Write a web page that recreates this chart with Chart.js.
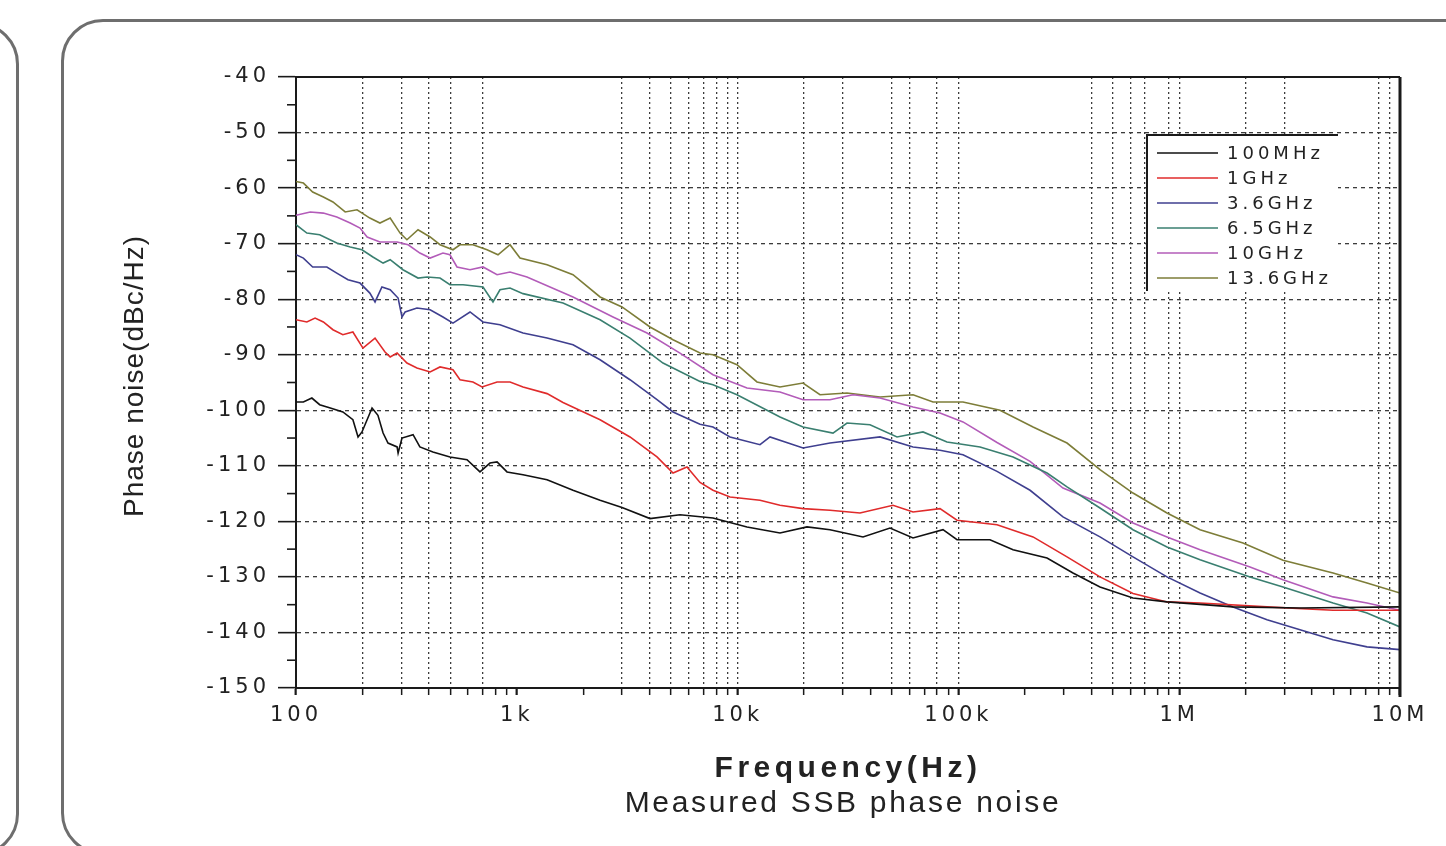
<!DOCTYPE html>
<html lang="en">
<head>
  <meta charset="UTF-8">
  <title>Measured SSB phase noise</title>
  <style>
    body {
      margin: 0;
      background: #ffffff;
      overflow: hidden;
    }

    .wrap {
      position: relative;
      width: 1446px;
      height: 846px;
      overflow: hidden;
    }

    .frame {
      position: absolute;
      box-sizing: border-box;
      border: 3px solid #6e6e6e;
      border-radius: 42px;
    }

    .frame.side {
      left: -100px;
      top: 22px;
      width: 119px;
      height: 834px;
    }

    .frame.main {
      left: 61px;
      top: 19px;
      width: 1500px;
      height: 836px;
    }

    canvas {
      position: absolute;
      left: 0;
      top: 0;
    }
  </style>
</head>
<body>
  <div class="wrap">
    <div class="frame side"></div>
    <div class="frame main"></div>
    <canvas id="noise-chart" width="1446" height="846"></canvas>
  </div>

  <script src="https://cdn.jsdelivr.net/npm/chart.js"></script>
  <script>
    // series (frequency in Hz, phase noise in dBc/Hz)
    const seriesNames = ["100MHz", "1GHz", "3.6GHz", "6.5GHz", "10GHz", "13.6GHz"];
    const seriesColors = ["#111111", "#e02b2b", "#3f3f8f", "#3a7f70", "#b35cb9", "#7d7d38"];

    const freq100M = [100, 108, 118, 128, 143, 163, 181, 191, 199, 221, 235, 248, 261, 287, 290, 302, 339, 364, 417, 498, 595, 681, 756, 814, 903, 1067, 1371, 1797, 2383, 2996, 4012, 5484, 7735, 11030, 15560, 20620, 26210, 36980, 49000, 62300, 85160, 98560, 139000, 176800, 252000, 330400, 437800, 617700, 880500, 1753000, 3525000, 10000000];
    const noise100M = [-98.5, -98.5, -97.8, -99.0, -99.6, -100.3, -101.7, -104.8, -103.9, -99.6, -100.9, -104.1, -105.9, -106.6, -107.7, -105.0, -104.4, -106.6, -107.5, -108.4, -108.9, -111.1, -109.5, -109.3, -111.1, -111.6, -112.5, -114.4, -116.2, -117.5, -119.5, -118.8, -119.4, -121.0, -122.1, -121.0, -121.5, -122.8, -121.2, -123.0, -121.5, -123.3, -123.3, -125.1, -126.6, -129.3, -131.8, -133.8, -134.5, -135.4, -135.6, -135.4];

    const freq1G = [100, 112, 122, 133, 147, 163, 181, 201, 228, 253, 267, 287, 318, 353, 405, 449, 514, 553, 633, 696, 814, 932, 1067, 1371, 1619, 2383, 3256, 4315, 5100, 5898, 6755, 7735, 9240, 12630, 15560, 19780, 26210, 35840, 50560, 62300, 82540, 98560, 149600, 217800, 310400, 437800, 617700, 880500, 1243000, 2499000, 4975000, 10000000];
    const noise1G = [-83.7, -84.1, -83.4, -84.1, -85.5, -86.4, -85.9, -88.8, -87.0, -89.5, -90.4, -89.7, -91.5, -92.4, -93.1, -92.2, -92.7, -94.5, -94.9, -95.8, -94.9, -94.9, -95.8, -97.0, -98.6, -101.7, -104.8, -108.4, -111.3, -110.2, -113.0, -114.4, -115.6, -116.2, -117.1, -117.7, -118.0, -118.5, -117.1, -118.3, -117.7, -119.8, -120.6, -122.8, -126.4, -130.0, -133.0, -134.5, -134.7, -135.4, -136.0, -136.0];

    const freq36G = [100, 108, 119, 138, 153, 172, 195, 216, 228, 245, 267, 290, 302, 312, 353, 405, 463, 514, 614, 703, 839, 1067, 1371, 1797, 2383, 3256, 4315, 5100, 6755, 7735, 9240, 12630, 14020, 19780, 26210, 44160, 62300, 82540, 104900, 149600, 211100, 297600, 437800, 617700, 880500, 1243000, 1753000, 2499000, 3525000, 4975000, 7089000, 10000000];
    const noise36G = [-72.0, -72.6, -74.2, -74.2, -75.3, -76.5, -77.1, -78.9, -80.5, -77.8, -78.3, -79.8, -83.2, -82.3, -81.6, -81.9, -83.2, -84.3, -82.3, -84.1, -84.6, -86.1, -87.0, -88.2, -90.9, -94.5, -98.1, -100.3, -102.5, -103.0, -104.8, -106.2, -104.8, -106.8, -105.9, -104.8, -106.6, -107.2, -108.0, -111.0, -114.4, -119.2, -122.8, -126.4, -130.0, -132.9, -135.4, -137.7, -139.5, -141.3, -142.6, -143.1];

    const freq65G = [100, 112, 128, 153, 176, 199, 223, 248, 267, 305, 357, 392, 449, 498, 571, 703, 780, 839, 932, 1067, 1619, 2383, 3256, 4593, 6755, 7735, 9938, 15560, 19780, 27040, 31300, 39780, 52720, 69140, 88790, 125300, 176800, 252000, 310400, 437800, 617700, 880500, 1243000, 2093000, 2952000, 4975000, 7089000, 10000000];
    const noise65G = [-66.6, -68.1, -68.4, -69.9, -70.6, -71.1, -72.4, -73.5, -72.9, -74.7, -76.2, -76.0, -76.2, -77.4, -77.4, -77.8, -80.5, -78.3, -78.0, -79.0, -80.7, -83.7, -87.0, -91.5, -94.8, -95.4, -97.2, -101.2, -103.0, -104.1, -102.3, -102.6, -104.8, -103.9, -105.7, -106.6, -108.4, -111.3, -113.8, -117.6, -121.5, -124.6, -126.9, -130.0, -131.8, -134.7, -136.5, -139.0];

    const freq10G = [100, 116, 133, 153, 176, 195, 210, 240, 287, 322, 364, 405, 463, 498, 536, 614, 703, 814, 932, 1112, 1797, 2727, 3888, 5484, 7735, 11030, 15560, 19780, 26210, 33320, 44160, 62300, 82540, 104900, 149600, 211100, 297600, 437800, 617700, 880500, 1243000, 2093000, 2952000, 4975000, 7089000, 10000000];
    const noise10G = [-64.9, -64.3, -64.5, -65.2, -66.3, -67.2, -68.8, -69.7, -69.7, -70.2, -71.7, -72.6, -71.7, -72.0, -74.2, -74.7, -74.2, -75.6, -75.1, -76.0, -79.6, -83.2, -86.1, -89.7, -93.6, -96.0, -96.7, -98.1, -98.1, -97.2, -97.8, -99.4, -100.5, -102.1, -105.8, -109.2, -114.0, -116.7, -120.3, -122.8, -125.1, -128.2, -130.5, -133.6, -134.7, -136.0];

    const freq136G = [100, 108, 119, 133, 147, 167, 189, 216, 240, 267, 296, 318, 357, 405, 449, 514, 553, 633, 733, 822, 932, 1034, 1371, 1797, 2383, 2996, 4012, 5100, 6755, 7735, 9938, 12240, 15560, 19780, 23610, 31300, 44160, 62300, 76740, 104900, 154300, 217800, 310400, 437800, 617700, 880500, 1243000, 1945000, 2952000, 4975000, 7089000, 10000000];
    const noise136G = [-58.8, -59.1, -60.7, -61.6, -62.5, -64.3, -63.9, -65.4, -66.3, -65.4, -68.1, -69.3, -67.5, -68.8, -70.2, -71.1, -70.2, -70.2, -71.1, -72.0, -70.2, -72.6, -73.8, -75.6, -79.6, -81.4, -85.0, -87.3, -89.7, -90.0, -91.8, -94.9, -95.8, -95.1, -97.2, -96.9, -97.6, -97.2, -98.5, -98.5, -100.0, -103.0, -105.9, -110.7, -114.9, -118.5, -121.5, -123.9, -127.0, -129.3, -131.1, -132.9];

    const seriesFreqs = [freq100M, freq1G, freq36G, freq65G, freq10G, freq136G];
    const seriesNoise = [noise100M, noise1G, noise36G, noise65G, noise10G, noise136G];

    // axis ticks
    const decadeValues = [100, 1000, 10000, 100000, 1000000, 10000000];
    const decadeLabels = ["100", "1k", "10k", "100k", "1M", "10M"];
    const yMinorTicks = [-45, -55, -65, -75, -85, -95, -105, -115, -125, -135, -145];
    // the original only has dotted grid lines at some of the minor positions
    const gridFreqs = [200, 300, 400, 500, 700, 3000, 4000, 5000, 6000, 7000, 8000, 9000, 10000, 20000, 30000, 50000, 60000, 80000, 100000, 400000, 500000, 600000, 700000, 900000, 1000000, 2000000, 3000000, 8000000, 9000000];

    const xTickValues = [];
    decadeValues.forEach((d, i) => {
      xTickValues.push(d);
      if (i < decadeValues.length - 1) {
        for (let k = 2; k <= 9; k++) xTickValues.push(d * k);
      }
    });
    const gridSet = new Set(gridFreqs);

    const fontFamily = "'Liberation Sans', Arial, sans-serif";
    const wideFamily = "'DejaVu Sans', sans-serif";
    const textColor = "#222222";
    const gridColor = "#3c3c3c";
    const clear = "rgba(0,0,0,0)";

    const datasets = seriesNames.map((name, i) => ({
      label: name,
      data: seriesFreqs[i].map((f, j) => ({ x: f, y: seriesNoise[i][j] })),
      borderColor: seriesColors[i],
      backgroundColor: seriesColors[i],
      borderWidth: 1.6,
      pointRadius: 0,
      tension: 0,
      fill: false
    }));

    const decorPlugin = {
      id: "decor",
      beforeDraw(chart) {
        // the scanned figure is stretched sideways, so spread the tick labels
        chart.ctx.letterSpacing = "4px";
      },
      afterDatasetsDraw(chart) {
        const ctx = chart.ctx;
        const area = chart.chartArea;
        const y = chart.scales.y;

        ctx.save();
        ctx.strokeStyle = "#1a1a1a";
        ctx.setLineDash([]);

        // top and right frame of the plot
        ctx.lineWidth = 2;
        ctx.beginPath();
        ctx.moveTo(area.left, area.top);
        ctx.lineTo(area.right, area.top);
        ctx.stroke();
        ctx.lineWidth = 3;
        ctx.beginPath();
        ctx.moveTo(area.right, area.top);
        ctx.lineTo(area.right, area.bottom + 9);
        ctx.stroke();

        // minor ticks on the y axis
        ctx.lineWidth = 1.6;
        yMinorTicks.forEach(v => {
          const py = y.getPixelForValue(v);
          ctx.beginPath();
          ctx.moveTo(area.left - 9, py);
          ctx.lineTo(area.left, py);
          ctx.stroke();
        });

        // legend box inside the plot
        const bx = area.right - 253;
        const by = area.top + 58;
        const bw = 191;
        const bh = 156;
        ctx.fillStyle = "#ffffff";
        ctx.fillRect(bx, by, bw, bh);
        ctx.lineWidth = 2;
        ctx.beginPath();
        ctx.moveTo(bx + bw, by);
        ctx.lineTo(bx, by);
        ctx.lineTo(bx, by + bh);
        ctx.stroke();

        ctx.font = "18px " + wideFamily;
        ctx.letterSpacing = "4px";
        ctx.textBaseline = "middle";
        ctx.textAlign = "left";
        seriesNames.forEach((name, i) => {
          const ry = by + 18 + i * 25;
          ctx.strokeStyle = seriesColors[i];
          ctx.lineWidth = 1.6;
          ctx.beginPath();
          ctx.moveTo(bx + 10, ry);
          ctx.lineTo(bx + 71, ry);
          ctx.stroke();
          ctx.fillStyle = textColor;
          ctx.fillText(name, bx + 80, ry + 1);
        });
        ctx.restore();
      },
      afterDraw(chart) {
        const ctx = chart.ctx;
        ctx.save();
        ctx.fillStyle = textColor;
        ctx.textAlign = "center";
        ctx.textBaseline = "middle";

        ctx.save();
        ctx.translate(135, 376);
        ctx.rotate(-Math.PI / 2);
        ctx.font = "28px " + fontFamily;
        ctx.letterSpacing = "1px";
        ctx.fillText("Phase noise(dBc/Hz)", 0, 0);
        ctx.restore();

        ctx.font = "bold 30px " + fontFamily;
        ctx.letterSpacing = "4.5px";
        ctx.fillText("Frequency(Hz)", 848, 769);

        ctx.font = "30px " + fontFamily;
        ctx.letterSpacing = "2.7px";
        ctx.fillText("Measured SSB phase noise", 843, 804);
        ctx.restore();

        ctx.letterSpacing = "0px";
      }
    };

    const ctx = document.getElementById("noise-chart").getContext("2d");

    const noiseChart = new Chart(ctx, {
      type: "line",
      data: { datasets: datasets },
      plugins: [decorPlugin],
      options: {
        responsive: false,
        animation: false,
        layout: { padding: { left: 0, right: 46, top: 77, bottom: 0 } },
        plugins: {
          legend: { display: false },
          tooltip: { enabled: false }
        },
        scales: {
          x: {
            type: "logarithmic",
            min: 100,
            max: 10000000,
            afterFit: scale => { scale.height = 158; },
            afterBuildTicks: scale => {
              scale.ticks = xTickValues.map(v => ({ value: v }));
            },
            ticks: {
              autoSkip: false,
              maxRotation: 0,
              padding: 8,
              color: textColor,
              font: { family: wideFamily, size: 21 },
              callback: value => {
                const i = decadeValues.indexOf(value);
                return i >= 0 ? decadeLabels[i] : "";
              }
            },
            grid: {
              color: c => (c.tick && gridSet.has(c.tick.value)) ? gridColor : clear,
              lineWidth: 1.3,
              tickLength: 7,
              tickColor: "#1a1a1a",
              tickWidth: c => (c.tick && decadeValues.includes(c.tick.value)) ? 2.2 : 1.5,
              tickBorderDash: []
            },
            border: { color: "#1a1a1a", width: 2, dash: [2, 3] }
          },
          y: {
            min: -150,
            max: -40,
            afterFit: scale => { scale.width = 296; },
            ticks: {
              stepSize: 10,
              padding: 8,
              color: textColor,
              font: { family: wideFamily, size: 21 }
            },
            grid: {
              color: c => (c.tick && (c.tick.value === -150 || c.tick.value === -40)) ? clear : gridColor,
              lineWidth: 1.3,
              tickLength: 18,
              tickColor: "#1a1a1a",
              tickWidth: 1.6,
              tickBorderDash: []
            },
            border: { color: "#1a1a1a", width: 2, dash: [4, 4] }
          }
        }
      }
    });
  </script>
</body>
</html>
